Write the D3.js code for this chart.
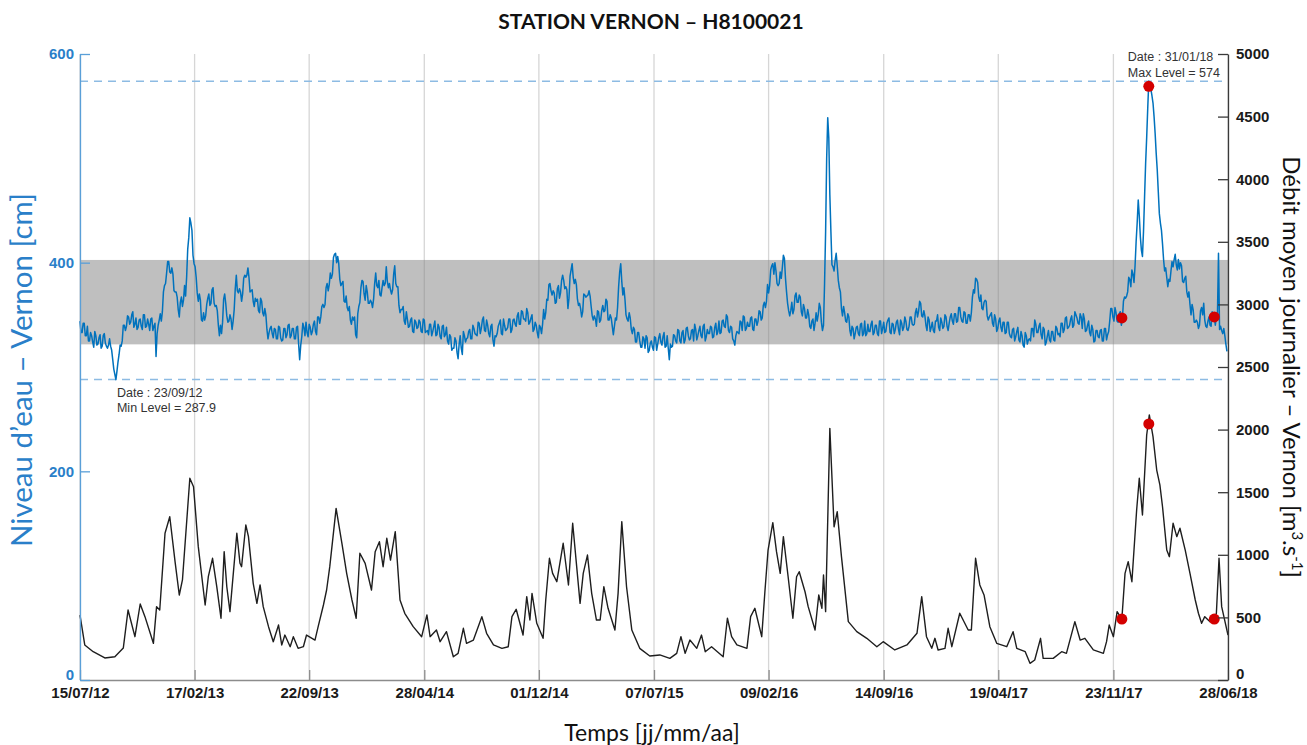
<!DOCTYPE html>
<html>
<head>
<meta charset="utf-8">
<script src="https://cdn.jsdelivr.net/npm/d3@7"></script>
<style>
  body { margin: 0; background: #ffffff; }
  svg { display: block; }
  .tick text { font-family: "Liberation Sans", Arial, sans-serif; font-weight: bold; font-size: 15px; }
</style>
</head>
<body>
<svg id="chart" width="1307" height="745"></svg>
<script>
// ---- data ----
const startDate = "2012-07-15";
const endDate = "2018-06-28";
const tickLabels = ["15/07/12", "17/02/13", "22/09/13", "28/04/14", "01/12/14", "07/07/15",
                    "09/02/16", "14/09/16", "19/04/17", "23/11/17", "28/06/18"];
const levelTicks = [0, 200, 400, 600];
const dischargeTicks = [0, 500, 1000, 1500, 2000, 2500, 3000, 3500, 4000, 4500, 5000];

// water level at Vernon (cm), readings every 4 days from startDate (days 0, 4, 8, ...)
const levelStepDays = 4;
const levelValues = [
  344,333,342,330,325,333,324,334,321,328,318,330,323,318,327,316,298,287.9,305,321,
  325,340,339,348,343,353,341,336,345,339,350,338,346,335,347,339,310,340,351,353,
  378,390,401,390,389,372,367,348,367,364,368,413,443,431,399,386,363,364,344,345,
  360,370,361,376,358,354,330,332,365,361,343,350,336,355,388,371,372,370,388,388,
  386,373,363,366,365,352,363,349,350,327,337,332,337,327,339,328,326,337,331,341,
  330,337,327,339,307,329,338,343,329,338,334,344,331,348,348,360,360,380,379,385,
  405,409,406,384,380,363,368,354,345,348,348,328,358,376,382,364,372,361,362,365,
  390,376,369,376,378,396,376,374,374,397,377,359,355,358,341,346,339,347,333,343,
  338,343,333,345,334,331,341,334,344,331,338,327,340,331,325,331,316,318,325,308,
  330,312,330,327,334,327,340,332,330,342,337,348,334,340,329,341,320,329,339,345,
  331,340,336,346,333,345,341,349,341,354,346,344,352,343,350,336,340,328,338,341,
  346,365,379,373,373,361,375,366,383,383,377,356,387,399,380,379,359,356,353,369,
  368,373,358,345,346,354,343,354,353,365,345,350,339,339,345,377,399,369,365,346,
  352,336,338,324,333,325,319,327,330,314,323,319,329,316,328,324,329,319,330,307,
  319,331,325,336,325,333,323,337,330,327,336,341,326,335,330,339,325,336,332,338,
  329,342,334,332,344,339,350,335,339,327,321,334,332,343,349,335,343,339,348,335,
  346,344,353,347,362,363,371,393,399,400,380,380,385,407,385,361,349,362,355,371,
  362,367,349,356,347,350,337,346,342,344,361,343,340,430,539,465,398,392,409,383,
  372,349,352,343,348,330,337,332,339,330,342,332,330,341,334,344,333,340,330,344,
  337,333,342,347,332,341,336,345,331,342,338,344,335,348,341,341,356,353,361,348,
  349,335,345,338,335,344,350,335,343,339,348,335,348,344,351,343,357,348,343,352,
  342,350,352,374,385,381,363,356,362,363,345,350,342,350,334,344,338,343,332,343,
  332,328,337,329,338,324,330,319,330,326,325,337,345,333,339,331,338,321,330,326,
  334,326,339,331,329,342,336,348,338,346,338,353,347,341,348,351,334,340,333,340,
  324,335,329,335,325,337,326,334,356,348,357,344,351,340,363,366,372,384,393,381,
  420,460,425,406,463,520,574,566,553,524,489,447,431,403,395,377,382,401,403,398,
  403,400,382,385,372,372,350,355,343,343,340,357,361,339,344,340,353,348,348,409,
  339,332,330,315
];
// intermediate readings, 2 days after each of the above (days 2, 6, 10, ...)
const levelValuesMid = [
  333,342,330,339,325,330,319,330,322,331,320,332,320,321,320,307,293,296,312,320,
  340,335,349,341,350,338,347,338,346,336,350,339,341,346,335,342,332,345,344,372,
  380,401,391,395,373,372,355,362,358,378,387,424,438,407,396,371,370,345,352,349,
  366,359,374,361,359,340,340,343,370,349,344,346,344,375,373,375,363,385,386,395,
  372,374,358,363,354,366,352,356,336,333,339,328,336,327,338,325,337,328,340,328,
  337,327,338,322,321,342,330,333,341,331,341,334,348,342,358,357,376,373,390,389,
  408,400,399,378,382,362,357,358,341,345,331,351,362,383,370,378,361,364,357,380,
  378,383,368,383,380,382,380,370,389,380,377,352,355,344,353,338,345,334,345,337,
  345,334,346,333,335,341,330,339,330,341,329,339,329,338,322,329,318,328,314,322,
  318,334,324,328,336,327,337,331,343,332,345,335,345,332,339,326,330,332,342,332,
  346,335,338,346,336,346,339,352,341,353,346,356,341,347,334,343,333,340,332,355,
  352,364,380,369,371,362,378,371,388,375,374,366,393,386,384,365,361,348,370,367,
  369,368,349,349,339,353,345,359,354,363,345,347,331,347,357,391,382,376,350,344,
  347,332,336,324,333,319,329,318,328,316,325,316,328,322,332,321,333,320,318,322,
  320,330,323,335,323,335,326,338,326,335,325,336,330,339,328,341,329,332,339,328,
  338,331,344,333,345,338,348,333,338,325,330,333,344,335,348,337,339,347,336,346,
  340,354,345,359,357,379,378,397,389,392,378,391,395,404,372,354,354,351,368,362,
  369,353,360,347,355,339,344,335,352,350,357,335,380,500,520,430,396,402,397,376,
  356,358,344,351,335,339,327,338,332,341,330,344,332,334,341,331,340,332,344,332,
  343,334,345,333,342,332,343,336,345,335,348,336,339,348,340,352,348,363,349,354,
  340,348,334,343,333,344,338,347,337,350,339,342,351,341,351,344,357,344,353,342,
  350,344,367,371,384,367,369,355,364,349,348,352,339,346,337,347,334,343,333,343,
  329,336,325,334,326,334,321,333,322,327,337,329,341,333,342,327,336,324,335,324,
  334,325,337,332,342,333,347,337,340,349,340,350,342,351,337,346,335,344,330,336,
  325,335,328,336,325,337,331,344,356,344,352,343,353,346,367,368,386,377,389,397,
  438,445,412,430,495,548,572,560,540,505,468,438,418,392,386,384,392,396,408,393,
  394,397,381,387,367,360,360,343,345,337,354,350,345,338,348,339,350,340,349,336,
  335,337,322
];

// mean daily discharge at Vernon (m3/s): day offset from startDate, value
const dischargeDays = [
  0,9,25,47,66,82,91,104,114,123,139,145,151,161,170,180,188,194,208,215,224,237,243,251,259,267,
  273,278,284,297,303,306,314,319,328,335,341,347,357,366,376,382,388,398,404,413,423,429,445,451,
  461,467,473,485,496,505,515,523,530,540,552,559,567,574,581,588,597,606,615,631,647,657,663,675,
  682,694,707,716,726,732,745,761,770,783,799,811,818,826,839,846,852,856,865,877,882,889,895,903,
  915,925,933,947,953,961,969,978,985,992,1000,1013,1019,1026,1035,1045,1060,1079,1098,1117,1130,
  1138,1146,1155,1168,1177,1184,1196,1218,1226,1234,1244,1263,1270,1278,1291,1297,1303,1312,1319,
  1326,1332,1341,1350,1357,1362,1373,1379,1392,1399,1405,1408,1412,1420,1428,1434,1442,1455,1471,
  1490,1509,1521,1543,1566,1585,1594,1603,1613,1619,1625,1638,1644,1651,1666,1682,1688,1696,1704,
  1712,1723,1736,1755,1767,1774,1790,1799,1808,1819,1824,1843,1859,1868,1884,1894,1903,1919,1938,
  1944,1949,1957,1964,1973,1979,1985,1992,2001,2006,2012,2020,2025,2032,2039,2045,2050,2058,2063,
  2070,2077,2083,2093,2102,2112,2118,2124,2130,2140,2148,2152,2157,2162,2174
];
const dischargeValues = [
  519,280,226,176,186,255,559,346,607,506,293,586,559,1172,1304,945,679,799,1611,1544,1065,599,825,972,745,493,
  1025,745,546,1172,932,905,1238,1145,772,612,759,586,426,306,439,280,359,266,346,253,266,359,319,426,
  599,719,905,1371,1092,852,639,493,1012,932,719,1025,1105,905,1132,958,1185,639,533,426,346,519,346,399,
  306,386,186,213,413,293,319,506,373,280,253,266,506,565,359,666,479,692,453,333,639,972,852,785,
  1092,759,1252,612,852,998,692,479,479,745,573,399,692,1265,745,399,253,192,200,173,213,
  346,213,319,253,359,226,266,186,493,346,280,253,506,573,346,705,1038,1257,1025,
  852,1145,825,493,825,865,705,586,399,679,573,839,546,2010,1224,1344,985,466,386,
  333,266,306,240,280,373,666,346,253,333,240,253,413,266,533,399,399,972,759,
  679,426,293,266,386,253,226,133,160,333,173,173,226,213,466,319,333,240,213,
  306,439,346,546,487,852,945,785,1358,1611,1318,1957,2117,1944,1677,1558,1384,1038,985,
  1252,1145,1212,1038,852,639,533,453,506,466,493,533,972,586,359
];

// reference band of usual water levels (cm)
const normalBand = [321.7, 402.6];
// recorded extremes of the water level
const minLevelDate = "2012-09-23";
const minLevelValue = 287.9;
const maxLevelDate = "2018-01-31";
const maxLevelValue = 574;
// highlighted observation dates and the values read on both series
const eventDates = ["2017-12-09", "2018-01-29", "2018-06-02"];
const eventLevels = [347, 569, 348];
const eventDischarges = [487, 2045, 487];

// ---- layout ----
const svg = d3.select("#chart");
const plot = { left: 80, right: 1228, top: 54, bottom: 680 };
const blue = "#0072BD";
const axisBlue = "#2a7fc9";
const labelFont = "Lato, 'Open Sans', sans-serif";

const parseISO = d3.utcParse("%Y-%m-%d");
const parseTick = d3.utcParse("%d/%m/%y");
const fmtDate = d3.utcFormat("%d/%m/%y");
const start = parseISO(startDate);
const dayMs = 86400000;

const x = d3.scaleUtc().domain([start, parseISO(endDate)]).range([plot.left, plot.right]);
const yL = d3.scaleLinear().domain([0, 600]).range([plot.bottom, plot.top]);
const yR = d3.scaleLinear().domain([0, 5000]).range([plot.bottom, plot.top]);

const tickDates = tickLabels.map(parseTick);

// merge the two level reading sets into one time-ordered series
const levelSeries = [];
levelValues.forEach((v, i) => {
  levelSeries.push({ date: new Date(+start + i * levelStepDays * dayMs), v });
  if (i < levelValuesMid.length) {
    levelSeries.push({ date: new Date(+start + (i * levelStepDays + levelStepDays / 2) * dayMs), v: levelValuesMid[i] });
  }
});
const dischargeSeries = dischargeDays.map((d, i) => ({ date: new Date(+start + d * dayMs), v: dischargeValues[i] }));

// vertical grid lines at each date tick
svg.append("g").selectAll("line").data(tickDates).join("line")
  .attr("x1", d => x(d)).attr("x2", d => x(d))
  .attr("y1", plot.top).attr("y2", plot.bottom)
  .attr("stroke", "#d6d6d6").attr("stroke-width", 1.3);

// usual level band
svg.append("rect")
  .attr("x", plot.left).attr("width", plot.right - plot.left)
  .attr("y", yL(normalBand[1])).attr("height", yL(normalBand[0]) - yL(normalBand[1]))
  .attr("fill", "#808080").attr("fill-opacity", 0.5);

// dashed lines at the extreme levels
svg.append("g").selectAll("line").data([maxLevelValue, minLevelValue]).join("line")
  .attr("x1", plot.left).attr("x2", plot.right)
  .attr("y1", d => yL(d)).attr("y2", d => yL(d))
  .attr("stroke", "#8dbbe3").attr("stroke-width", 1.5).attr("stroke-dasharray", "8,6");

// discharge line (right axis)
svg.append("path").datum(dischargeSeries)
  .attr("fill", "none").attr("stroke", "#1e1e1e").attr("stroke-width", 1.4)
  .attr("stroke-linejoin", "round")
  .attr("d", d3.line().x(d => x(d.date)).y(d => yR(d.v)));

// water level line (left axis)
svg.append("path").datum(levelSeries)
  .attr("fill", "none").attr("stroke", blue).attr("stroke-width", 1.5)
  .attr("stroke-linejoin", "round")
  .attr("d", d3.line().x(d => x(d.date)).y(d => yL(d.v)));

// highlighted observations on both series
const ev = eventDates.map((d, i) => ({ date: parseISO(d), level: eventLevels[i], q: eventDischarges[i] }));
svg.append("g").selectAll("circle.lv").data(ev).join("circle")
  .attr("cx", d => x(d.date)).attr("cy", d => yL(d.level)).attr("r", 5.5)
  .attr("fill", "#d40000");
svg.append("g").selectAll("circle.q").data(ev).join("circle")
  .attr("cx", d => x(d.date)).attr("cy", d => yR(d.q)).attr("r", 5.5)
  .attr("fill", "#d40000");

// axes
const gx = svg.append("g").attr("transform", `translate(0,${plot.bottom})`)
  .call(d3.axisBottom(x).tickValues(tickDates).tickFormat((d, i) => tickLabels[i])
    .tickSize(-10).tickSizeOuter(0).tickPadding(7));
gx.select(".domain").attr("stroke", "#8c8c8c").attr("stroke-width", 1.3);
gx.selectAll(".tick line").attr("stroke", "#8c8c8c").attr("stroke-width", 1.3);
gx.selectAll(".tick text").attr("fill", "#1a1a1a");

const gl = svg.append("g").attr("transform", `translate(${plot.left},0)`)
  .call(d3.axisLeft(yL).tickValues(levelTicks).tickSize(-10).tickSizeOuter(0).tickPadding(6));
gl.select(".domain").attr("stroke", "#5a9fd8").attr("stroke-width", 1.3);
gl.selectAll(".tick line").attr("stroke", "#5a9fd8").attr("stroke-width", 1.3);
gl.selectAll(".tick text").attr("fill", axisBlue)
  .attr("dy", d => d === 0 ? "-0.05em" : "0.32em");

const gr = svg.append("g").attr("transform", `translate(${plot.right},0)`)
  .call(d3.axisRight(yR).tickValues(dischargeTicks).tickFormat(d3.format("d"))
    .tickSize(-10).tickSizeOuter(0).tickPadding(8));
gr.select(".domain").attr("stroke", "#3a3a3a").attr("stroke-width", 1.3);
gr.selectAll(".tick line").attr("stroke", "#3a3a3a").attr("stroke-width", 1.3);
gr.selectAll(".tick text").attr("fill", "#1a1a1a")
  .attr("dy", d => d === 0 ? "-0.1em" : "0.32em");

// extreme level notes
const noteStyle = s => s.attr("font-family", "'Liberation Sans', Arial, sans-serif")
  .attr("font-size", 12.5).attr("fill", "#333");
const maxX = x(parseISO(maxLevelDate)) - 22;
svg.append("text").attr("x", maxX).attr("y", 61).call(noteStyle)
  .text(`Date : ${fmtDate(parseISO(maxLevelDate))}`);
svg.append("text").attr("x", maxX).attr("y", 77).call(noteStyle)
  .text(`Max Level = ${maxLevelValue}`);
const minX = x(parseISO(minLevelDate));
svg.append("text").attr("x", minX).attr("y", yL(minLevelValue) + 17).call(noteStyle)
  .text(`Date : ${fmtDate(parseISO(minLevelDate))}`);
svg.append("text").attr("x", minX).attr("y", yL(minLevelValue) + 32).call(noteStyle)
  .text(`Min Level = ${minLevelValue}`);

// title and axis titles
svg.append("text").attr("x", 651).attr("y", 29).attr("text-anchor", "middle")
  .attr("font-family", labelFont).attr("font-weight", "bold").attr("font-size", 21)
  .attr("fill", "#111").text("STATION VERNON – H8100021");

svg.append("text").attr("x", 652).attr("y", 741).attr("text-anchor", "middle")
  .attr("font-family", labelFont).attr("font-size", 23).attr("fill", "#111")
  .text("Temps [jj/mm/aa]");

svg.append("text").attr("transform", "translate(32,370) rotate(-90)").attr("text-anchor", "middle")
  .attr("font-family", labelFont).attr("font-size", 29.5).attr("fill", axisBlue)
  .text("Niveau d’eau – Vernon [cm]");

const rl = svg.append("text").attr("transform", "translate(1283,367) rotate(90)").attr("text-anchor", "middle")
  .attr("font-family", labelFont).attr("font-size", 24).attr("fill", "#111");
rl.append("tspan").text("Débit moyen journalier – Vernon [m");
rl.append("tspan").attr("font-size", 15).attr("dy", -9).text("3");
rl.append("tspan").attr("dy", 9).text(".s");
rl.append("tspan").attr("font-size", 15).attr("dy", -9).text("-1");
rl.append("tspan").attr("dy", 9).text("]");
</script>
</body>
</html>
